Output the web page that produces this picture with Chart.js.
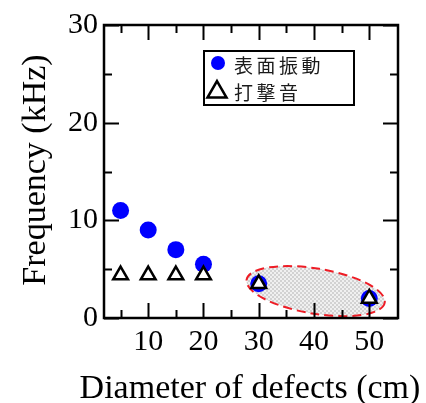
<!DOCTYPE html>
<html>
<head>
<meta charset="utf-8">
<script src="https://cdn.jsdelivr.net/npm/chart.js@4.4.0/dist/chart.umd.min.js"></script>
<style>
html, body { margin: 0; padding: 0; background: #fff; }
#wrap { width: 426px; height: 403px; }
</style>
</head>
<body>
<div id="wrap"><canvas id="myChart"></canvas></div>
<script>
const diameters = [5, 10, 15, 20, 30, 50];
const surfaceVibration = [11, 9, 7, 5.5, 3.5, 2];
const hammeringSound = [4.4, 4.4, 4.4, 4.4, 3.5, 2];
const xTicks = [5, 10, 15, 20, 25, 30, 35, 40, 45, 50];
const seriesLabels = ['表面振動', '打撃音'];
const xTitle = 'Diameter of defects (cm)';
const yTitle = 'Frequency (kHz)';
// highlighted group (centre in data units)
const groupCentre = [40.3, 2.75];

const serif = "'Liberation Serif', 'Times New Roman', serif";

// light grey checker fill for the ellipse
const pat = document.createElement('canvas');
pat.width = 4; pat.height = 4;
const pctx = pat.getContext('2d');
pctx.fillStyle = '#f0f0f0'; pctx.fillRect(0, 0, 4, 4);
pctx.fillStyle = '#d2d2d2'; pctx.fillRect(0, 0, 2, 2); pctx.fillRect(2, 2, 2, 2);

const groupEllipse = {
    id: 'groupEllipse',
    beforeDatasetsDraw(chart) {
        const {ctx, scales: {x, y}} = chart;
        const cx = x.getPixelForValue(groupCentre[0]);
        const cy = y.getPixelForValue(groupCentre[1]);
        ctx.save();
        ctx.beginPath();
        ctx.ellipse(cx, cy, 70, 22.6, 9.4 * Math.PI / 180, 0, Math.PI * 2);
        ctx.fillStyle = ctx.createPattern(pat, 'repeat');
        ctx.fill();
        ctx.setLineDash([9, 5]);
        ctx.lineWidth = 2;
        ctx.strokeStyle = '#ee1c25';
        ctx.stroke();
        ctx.restore();
    }
};

/* box + inward ticks on all four sides */
const frameTicks = {
    id: 'frameTicks',
    afterDatasetsDraw(chart) {
        const {ctx, chartArea: a, scales: {x, y}} = chart;
        ctx.save();
        ctx.strokeStyle = '#000';
        ctx.lineWidth = 2;
        ctx.beginPath();
        x.ticks.forEach(t => {
            const px = Math.round(x.getPixelForValue(t.value)) + 0.5;
            const len = t.value % 10 === 0 ? 15 : 8;
            ctx.moveTo(px, a.bottom); ctx.lineTo(px, a.bottom - len);
            ctx.moveTo(px, a.top); ctx.lineTo(px, a.top + len);
        });
        y.ticks.forEach(t => {
            const py = Math.round(y.getPixelForValue(t.value)) + 0.5;
            const len = t.value % 10 === 0 ? 15 : 8;
            ctx.moveTo(a.left, py); ctx.lineTo(a.left + len, py);
            ctx.moveTo(a.right, py); ctx.lineTo(a.right - len, py);
        });
        ctx.stroke();
        ctx.lineWidth = 2.5;
        ctx.strokeRect(a.left, a.top, a.right - a.left, a.bottom - a.top);
        ctx.restore();
    }
};

// axis titles drawn by hand: the built-in title is squeezed to the chart width
const axisTitles = {
    id: 'axisTitles',
    afterDraw(chart) {
        const {ctx} = chart;
        ctx.save();
        ctx.fillStyle = '#000';
        ctx.font = '34px ' + serif;
        ctx.textAlign = 'center';
        ctx.textBaseline = 'alphabetic';
        ctx.fillText(xTitle, 250, 398);
        ctx.translate(45, 170);
        ctx.rotate(-Math.PI / 2);
        ctx.fillText(yTitle, 0, 0);
        ctx.restore();
    }
};

const boxLegend = {
    id: 'boxLegend',
    afterDraw(chart) {
        const {ctx} = chart;
        const left = 204, top = 51, w = 150, h = 54;
        ctx.save();
        ctx.fillStyle = '#fff';
        ctx.fillRect(left, top, w, h);
        ctx.lineWidth = 2;
        ctx.strokeStyle = '#000';
        ctx.strokeRect(left, top, w, h);
        ctx.font = "19px 'Noto Sans CJK JP', sans-serif";
        ctx.textBaseline = 'middle';
        chart.data.datasets.forEach((ds, i) => {
            const rowY = top + 13 + i * 27;
            if (ds.pointStyle === 'circle') {
                ctx.beginPath();
                ctx.arc(left + 14, rowY - 1, 7, 0, Math.PI * 2);
                ctx.fillStyle = ds.pointBackgroundColor;
                ctx.fill();
            } else {
                const r = 11, cx = left + 13, cy = rowY + 1;
                ctx.beginPath();
                for (let k = 0; k < 3; k++) {
                    const ang = -Math.PI / 2 + k * 2 * Math.PI / 3;
                    const px = cx + Math.cos(ang) * r, py = cy + Math.sin(ang) * r;
                    k === 0 ? ctx.moveTo(px, py) : ctx.lineTo(px, py);
                }
                ctx.closePath();
                ctx.fillStyle = '#fff';
                ctx.fill();
                ctx.lineWidth = 2.5;
                ctx.strokeStyle = '#000';
                ctx.stroke();
            }
            ctx.fillStyle = '#1a1a1a';
            [...ds.label].forEach((ch, k) => {
                ctx.fillText(ch, left + 30 + k * 22.5, rowY + 2);
            });
        });
        ctx.restore();
    }
};

const config = document.getElementById('myChart').getContext('2d');
const myChart = new Chart(config, {
    type: 'scatter',
    data: {
        datasets: [
            {
                label: seriesLabels[0],
                data: diameters.map((d, i) => ({x: d, y: surfaceVibration[i]})),
                pointStyle: 'circle',
                pointRadius: 8.5,
                pointBackgroundColor: '#0000ff',
                pointBorderWidth: 0,
                order: 1
            },
            {
                label: seriesLabels[1],
                data: diameters.map((d, i) => ({x: d, y: hammeringSound[i]})),
                pointStyle: 'triangle',
                pointRadius: 8.5,
                pointBackgroundColor: '#ffffff',
                pointBorderColor: '#000000',
                pointBorderWidth: 2.5,
                order: 0
            }
        ]
    },
    options: {
        responsive: true,
        maintainAspectRatio: false,
        animation: false,
        layout: {
            padding: {top: 25, right: 28, left: 0, bottom: 0}
        },
        plugins: {
            legend: {display: false},
            tooltip: {enabled: false}
        },
        scales: {
            x: {
                type: 'linear',
                min: 2,
                max: 55.2,
                afterBuildTicks: s => { s.ticks = xTicks.map(v => ({value: v})); },
                afterFit: s => { s.height = 85; },
                grid: {display: false, drawTicks: false},
                border: {display: false},
                ticks: {
                    color: '#000',
                    padding: 6,
                    maxRotation: 0,
                    autoSkip: false,
                    font: {family: serif, size: 30},
                    callback: v => v % 10 === 0 ? v : ''
                }
            },
            y: {
                min: 0,
                max: 30,
                afterFit: s => { s.width = 104; },
                grid: {display: false, drawTicks: false},
                border: {display: false},
                ticks: {
                    stepSize: 5,
                    color: '#000',
                    padding: 6,
                    font: {family: serif, size: 30},
                    callback: v => v % 10 === 0 ? v : ''
                }
            }
        }
    },
    plugins: [groupEllipse, frameTicks, axisTitles, boxLegend]
});
</script>
</body>
</html>
